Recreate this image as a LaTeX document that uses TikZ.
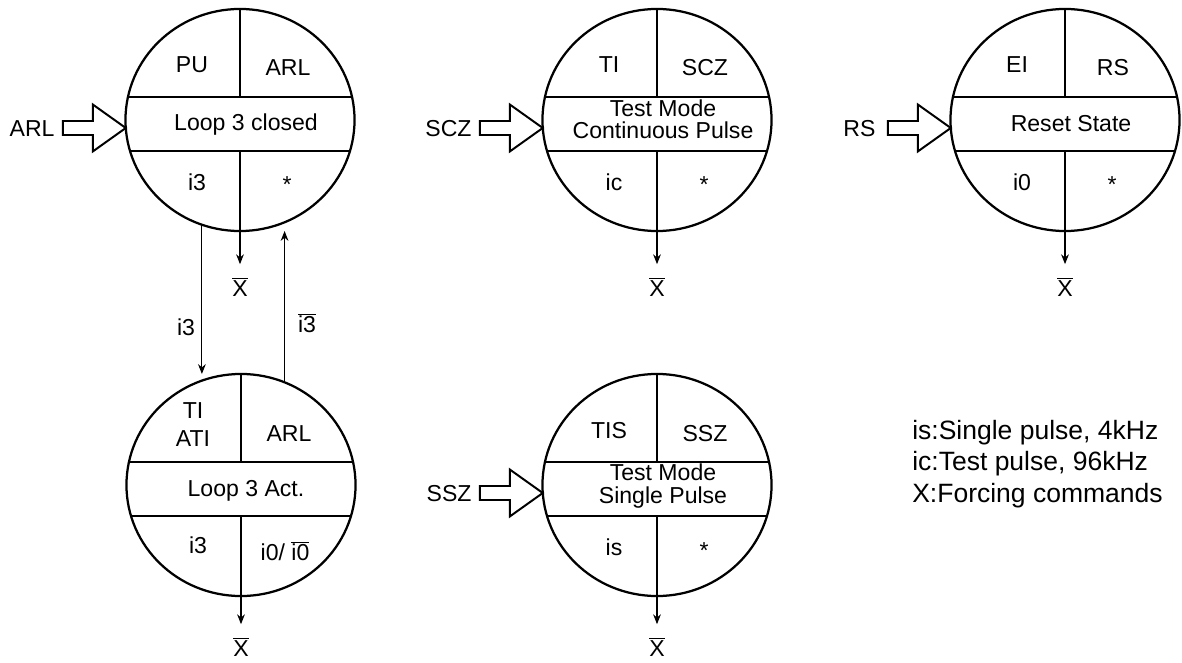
\documentclass[tikz,border=0pt]{standalone}
\usepackage{fontspec}
\setmainfont{Liberation Sans}
\usepackage{tikz}
\usetikzlibrary{arrows.meta,positioning,calc,shapes.geometric}
\newcommand{\ovl}[1]{$\overline{\mbox{#1}}$}

\begin{document}
\begin{tikzpicture}[
  x=0.025cm, y=-0.025cm,
  >={Stealth[length=7pt,width=5.5pt]},
  state/.style={draw, ellipse, line width=1.6pt, minimum width=5.725cm, minimum height=5.55cm,
                inner sep=0pt, outer sep=0pt},
  cell/.style={font=\fontsize{16.4}{19}\selectfont, inner sep=0pt, anchor=base},
  band/.style={font=\fontsize{16.4}{15.7}\selectfont, inner sep=0pt, align=center},
  lbl/.style={font=\fontsize{16.4}{19}\selectfont, inner sep=0pt},
  xbar/.style={font=\fontsize{16.4}{19}\selectfont, inner sep=0pt},
  divider/.style={line width=1pt},
  conn/.style={line width=0.75pt, ->},
  xout/.style={line width=0.9pt, ->, shorten >=0.33cm},
  blockin/.pic={
    \draw[line width=1.4pt, fill=white] (0,0) -- (-33,-23.5) -- (-33,-7) -- (-63,-7)
      -- (-63,7) -- (-33,7) -- (-33,23.5) -- cycle;
  },
]
\useasboundingbox (0,0) rectangle (1182,663);

% States
\node[state] (s1) at (240,120) {};
\node[state] (s2) at (657,120) {};
\node[state] (s3) at (1065,120) {};
\node[state] (s4) at (241,485) {};
\node[state] (s5) at (657,485) {};

% Dividers inside each state
\foreach \st in {s1,s2,s3,s4,s5} {
  \draw[divider] ($(\st)+(-112,-23)$) -- ($(\st)+(112,-23)$);
  \draw[divider] ($(\st)+(-110,31)$) -- ($(\st)+(110,31)$);
  \draw[divider] (\st.north) -- ($(\st)+(0,-23)$);
}

% Cells
\foreach \st/\tl/\tr/\bl/\br in {s1/PU/ARL/i3/*, s2/TI/SCZ/ic/*, s3/EI/RS/i0/*, s5/TIS/SSZ/is/*} {
  \node[cell] (\st tl) at ($(\st)+(-48,-47)$) {\tl};
  \node[cell] (\st tr) at ($(\st)+(48,-44)$) {\tr};
  \node[cell] (\st bl) at ($(\st)+(-43,70)$) {\bl};
  \node[cell] (\st br) at ($(\st)+(47,73)$) {\br};
}
\node[cell, anchor=center, align=center, font=\fontsize{16.4}{19.9}\selectfont] (s4tl)
  at ($(s4)+(-48,-60)$) {TI\\ATI};
\node[cell] (s4tr) at ($(s4)+(48,-44)$) {ARL};
\node[cell] (s4bl) at ($(s4)+(-43,68)$) {i3};
\node[cell] (s4br) at ($(s4)+(44,75.5)$) {i0/ \ovl{i0}};

% Band texts
\node[cell] (s1m) at ($(s1)+(6,11)$) {Loop 3 closed};
\node[band] (s2m) at ($(s2)+(6,-1)$) {Test Mode\\Continuous Pulse};
\node[cell] (s3m) at ($(s3)+(6,12)$) {Reset State};
\node[cell] (s4m) at ($(s4)+(5,11.5)$) {Loop 3 Act.};
\node[band] (s5m) at ($(s5)+(6,1)$) {Test Mode\\Single Pulse};

% Forcing outputs
\foreach \i/\dy in {1/167,2/167,3/167,4/162,5/162} {
  \node[xbar] (x\i) at ($(s\i)+(0,\dy)$) {\ovl{X}};
  \draw[xout] ($(s\i)+(0,31)$) -- (x\i.north);
}

% Command inputs
\pic at (s1.184) {blockin};
\pic at (s2.184) {blockin};
\pic at (s3.184) {blockin};
\pic at (s5.184) {blockin};
\node[lbl, anchor=east] (in1) at ($(s1.184)+(-71,1)$) {ARL};
\node[lbl, anchor=east] (in2) at ($(s2.184)+(-71,1)$) {SCZ};
\node[lbl, anchor=east] (in3) at ($(s3.184)+(-75,1)$) {RS};
\node[lbl, anchor=east] (in5) at ($(s5.184)+(-71,1)$) {SSZ};

% Transitions
\draw[conn] (s1.250) -- (s1.250 |- s4.north);
\draw[conn] (s4.67) -- (s4.67 |- s1.south);
\node[lbl] (t1) at (186,327) {i3};
\node[lbl] (t2) at (307,323) {\ovl{i3}};

% Legend
\node[anchor=north west, align=left, inner sep=0pt, font=\fontsize{18.85}{22.3}\selectfont] (legend)
  at (912,420) {is:Single pulse, 4kHz\\ic:Test pulse, 96kHz\\X:Forcing commands};
\end{tikzpicture}
\end{document}
